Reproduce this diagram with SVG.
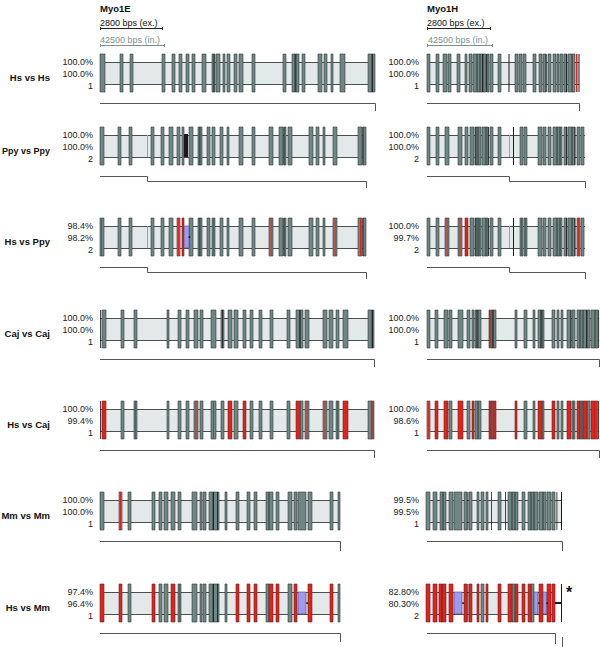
<svg xmlns="http://www.w3.org/2000/svg" width="600" height="647" viewBox="0 0 600 647">
<style>
.bg{fill:#fff}
.bx{fill:#e3e9e8}
.bxl{fill:none;stroke:#4a4f4f;stroke-width:1}
.brk{fill:none;stroke:#9aa3a2;stroke-width:1}
.e{fill:#6f8684;stroke:#2f3b3a;stroke-width:.6}
.r{fill:#e6201b;stroke:#5e2a28;stroke-width:.6}
.rl{fill:#e6201b}
.k{fill:#1a1a1a}
.bl{fill:#9a9cf2;stroke:#4c4c6a;stroke-width:.6}
.pct{font-family:"Liberation Sans",Arial,sans-serif;font-size:9px;fill:#222;text-anchor:end}
.lab{font-family:"Liberation Sans",Arial,sans-serif;font-size:9.5px;font-weight:bold;fill:#111;text-anchor:end}
.ttl{font-family:"Liberation Sans",Arial,sans-serif;font-size:9.5px;font-weight:bold;fill:#111}
.sc{font-family:"Liberation Sans",Arial,sans-serif;font-size:9px;fill:#111}
.sc2{font-family:"Liberation Sans",Arial,sans-serif;font-size:9px;fill:#7d918e}
.scl{fill:none;stroke:#222;stroke-width:1}
.scl2{fill:none;stroke:#7d918e;stroke-width:1}
.br{fill:none;stroke:#555;stroke-width:1}
</style>
<rect class="bg" x="0" y="0" width="600" height="647"/>

<g id="header-myo1e">
<text class="ttl" x="100" y="12">Myo1E</text>
<text class="sc" x="100" y="26">2800 bps (ex.)</text>
<path class="scl" d="M100 28.5H163M100.5 27V30M162.5 27V30"/>
<text class="sc2" x="100" y="43">42500 bps (in.)</text>
<path class="scl2" d="M100 45.5H165M100.5 44V47M164.5 44V47"/>
</g>
<g id="header-myo1h">
<text class="ttl" x="427" y="12">Myo1H</text>
<text class="sc" x="427" y="26">2800 bps (ex.)</text>
<path class="scl" d="M427 28.5H491M427.5 27V30M490.5 27V30"/>
<text class="sc2" x="428" y="43">42500 bps (in.)</text>
<path class="scl2" d="M427 45.5H493M427.5 44V47M492.5 44V47"/>
</g>

<!-- Row 1: Hs vs Hs -->
<g id="row-hs-hs" transform="translate(0,54)">
<text class="lab" x="50" y="27">Hs vs Hs</text>
<g id="hs-hs-myo1e">
<text class="pct" x="93" y="11">100.0%</text><text class="pct" x="93" y="23">100.0%</text><text class="pct" x="93" y="34.5">1</text>
<rect class="bx" x="100" y="8" width="275" height="22"/><path class="bxl" d="M100 8.5H375M100 30.5H375"/>
<path class="e" d="M100 0h5v38h-5zM120 0h3v38h-3zM130 0h3v38h-3zM162 0h3v38h-3zM172 0h3v38h-3zM179 0h3v38h-3zM186 0h3v38h-3zM192 0h3v38h-3zM202 0h4v38h-4zM212 0h3v38h-3zM216 0h4v38h-4zM223 0h2v38h-2zM227 0h3v38h-3zM234 0h3v38h-3zM239 0h4v38h-4zM252 0h3v38h-3zM283 0h3v38h-3zM292 0h3v38h-3zM295 0h4v38h-4zM302 0h3v38h-3zM318 0h4v38h-4zM324 0h3v38h-3zM331 0h2v38h-2zM340 0h5v38h-5zM368 0h4v38h-4zM372 0h3v38h-3z"/>
<path class="k" d="M213.5 0h.8v38h-.8zM295.5 0h.8v38h-.8zM372.2 0h.8v38h-.8z"/>
</g>
<g id="hs-hs-myo1h">
<text class="pct" x="419" y="11">100.0%</text><text class="pct" x="419" y="23">100.0%</text><text class="pct" x="419" y="34.5">1</text>
<rect class="bx" x="427" y="8" width="152" height="22"/><path class="bxl" d="M427 8.5H579M427 30.5H579"/>
<path class="e" d="M427 0h3v38h-3zM436 0h3v38h-3zM443 0h4v38h-4zM448 0h3v38h-3zM457 0h3v38h-3zM465 0h2v38h-2zM469 0h3v38h-3zM473 0h4v38h-4zM477 0h3v38h-3zM480 0h3v38h-3zM483 0h3v38h-3zM487 0h2v38h-2zM490 0h3v38h-3zM498 0h3v38h-3zM515 0h3v38h-3zM519 0h3v38h-3zM523 0h3v38h-3zM533 0h3v38h-3zM539 0h3v38h-3zM543 0h3v38h-3zM548 0h3v38h-3zM553 0h3v38h-3zM557 0h2v38h-2zM560 0h3v38h-3zM564 0h3v38h-3zM568 0h4v38h-4zM572 0h3v38h-3z"/>
<path class="rl" d="M576 0h1.5v38h-1.5z"/>
<path class="k" d="M482 0h.8v38h-.8zM486.2 0h.8v38h-.8zM508.5 0h1v38h-1zM545.8 0h.8v38h-.8zM566 0h.8v38h-.8zM578.5 0h1v38h-1z"/>
</g>
</g>

<!-- Row 2: Ppy vs Ppy -->
<g id="row-ppy-ppy" transform="translate(0,127)">
<text class="lab" x="50" y="27" textLength="48" lengthAdjust="spacingAndGlyphs">Ppy vs Ppy</text>
<g id="ppy-ppy-myo1e">
<text class="pct" x="93" y="11">100.0%</text><text class="pct" x="93" y="23">100.0%</text><text class="pct" x="93" y="34.5">2</text>
<rect class="bx" x="100" y="8" width="266" height="22"/><path class="bxl" d="M100 8.5H366M100 30.5H366"/>
<path class="brk" d="M147.5 8V30"/>
<path class="e" d="M100 0h4v38h-4zM118 0h3v38h-3zM129 0h3v38h-3zM151 0h3v38h-3zM161 0h3v38h-3zM169 0h4v38h-4zM177 0h3v38h-3zM182 0h2v38h-2zM189 0h4v38h-4zM198 0h4v38h-4zM207 0h3v38h-3zM212 0h3v38h-3zM220 0h3v38h-3zM227 0h2v38h-2zM239 0h4v38h-4zM252 0h3v38h-3zM269 0h4v38h-4zM279 0h4v38h-4zM284 0h2v38h-2zM288 0h4v38h-4zM309 0h4v38h-4zM316 0h3v38h-3zM323 0h2v38h-2zM333 0h4v38h-4zM358 0h4v38h-4zM363 0h3v38h-3z"/>
<path class="k" d="M184 7h4v23h-4zM199.5 0h.8v38h-.8zM283.5 0h.8v38h-.8zM362.5 0h.8v38h-.8z"/>
</g>
<g id="ppy-ppy-myo1h">
<text class="pct" x="419" y="11">100.0%</text><text class="pct" x="419" y="23">100.0%</text><text class="pct" x="419" y="34.5">2</text>
<rect class="bx" x="427" y="8" width="158" height="22"/><path class="bxl" d="M427 8.5H585M427 30.5H585"/>
<path class="brk" d="M509.5 8V30"/>
<path class="e" d="M427 0h3v38h-3zM436 0h3v38h-3zM445 0h4v38h-4zM458 0h4v38h-4zM465 0h3v38h-3zM470 0h4v38h-4zM475 0h3v38h-3zM478 0h3v38h-3zM482 0h4v38h-4zM486 0h2v38h-2zM490 0h3v38h-3zM498 0h3v38h-3zM520 0h3v38h-3zM524 0h3v38h-3zM538 0h4v38h-4zM543 0h3v38h-3zM548 0h3v38h-3zM553 0h4v38h-4zM557 0h3v38h-3zM560 0h2v38h-2zM564 0h3v38h-3zM568 0h4v38h-4zM572 0h3v38h-3zM577 0h3v38h-3zM581 0h3v38h-3z"/>
<path class="k" d="M513 0h1v38h-1zM475.5 0h.8v38h-.8zM488 0h.8v38h-.8zM566 0h.8v38h-.8zM574.5 0h.8v38h-.8z"/>
</g>
</g>

<!-- Row 3: Hs vs Ppy -->
<g id="row-hs-ppy" transform="translate(0,218)">
<text class="lab" x="50" y="27">Hs vs Ppy</text>
<g id="hs-ppy-myo1e">
<text class="pct" x="93" y="11">98.4%</text><text class="pct" x="93" y="23">98.2%</text><text class="pct" x="93" y="34.5">2</text>
<rect class="bx" x="100" y="8" width="266" height="22"/><path class="bxl" d="M100 8.5H366M100 30.5H366"/>
<path class="brk" d="M147.5 8V30"/>
<path class="e" d="M100 0h4v38h-4zM118 0h3v38h-3zM129 0h3v38h-3zM151 0h3v38h-3zM161 0h3v38h-3zM169 0h4v38h-4zM177 0h3v38h-3zM189 0h4v38h-4zM198 0h4v38h-4zM207 0h3v38h-3zM212 0h3v38h-3zM220 0h3v38h-3zM227 0h2v38h-2zM239 0h4v38h-4zM252 0h3v38h-3zM269 0h4v38h-4zM279 0h4v38h-4zM284 0h2v38h-2zM288 0h4v38h-4zM309 0h4v38h-4zM316 0h3v38h-3zM323 0h2v38h-2zM333 0h4v38h-4zM358 0h4v38h-4zM363 0h3v38h-3z"/>
<path class="r" d="M182 0h2v38h-2z"/>
<path class="rl" d="M101 0h1v38h-1zM178 0h1v38h-1zM213 0h1v38h-1zM270.5 0h1v38h-1zM334.5 0h1v38h-1zM360 0h1v38h-1z"/>
<rect class="bl" x="184" y="8" width="5" height="22"/>
<path class="k" d="M188.6 18.3h1.6v1.6h-1.6zM199.5 0h.8v38h-.8zM283.5 0h.8v38h-.8zM362.5 0h.8v38h-.8z"/>
</g>
<g id="hs-ppy-myo1h">
<text class="pct" x="419" y="11">100.0%</text><text class="pct" x="419" y="23">99.7%</text><text class="pct" x="419" y="34.5">2</text>
<rect class="bx" x="427" y="8" width="158" height="22"/><path class="bxl" d="M427 8.5H585M427 30.5H585"/>
<path class="brk" d="M509.5 8V30"/>
<path class="e" d="M427 0h3v38h-3zM436 0h3v38h-3zM445 0h4v38h-4zM458 0h4v38h-4zM470 0h4v38h-4zM475 0h3v38h-3zM478 0h3v38h-3zM482 0h4v38h-4zM486 0h2v38h-2zM490 0h3v38h-3zM498 0h3v38h-3zM520 0h3v38h-3zM524 0h3v38h-3zM538 0h4v38h-4zM543 0h3v38h-3zM548 0h3v38h-3zM553 0h4v38h-4zM557 0h3v38h-3zM560 0h2v38h-2zM564 0h3v38h-3zM568 0h4v38h-4zM572 0h3v38h-3zM577 0h3v38h-3zM581 0h3v38h-3z"/>
<path class="r" d="M465 0h3v38h-3z"/>
<path class="rl" d="M446.5 0h1v38h-1zM459.5 0h1v38h-1zM479 0h1v38h-1zM521 0h1v38h-1zM525 0h1v38h-1zM578 0h1.2v38h-1.2z"/>
<path class="k" d="M513 0h1v38h-1zM475.5 0h.8v38h-.8zM488 0h.8v38h-.8zM566 0h.8v38h-.8zM574.5 0h.8v38h-.8z"/>
</g>
</g>

<!-- Row 4: Caj vs Caj -->
<g id="row-caj-caj" transform="translate(0,310)">
<text class="lab" x="50" y="27">Caj vs Caj</text>
<g id="caj-caj-myo1e">
<text class="pct" x="93" y="11">100.0%</text><text class="pct" x="93" y="23">100.0%</text><text class="pct" x="93" y="34.5">1</text>
<rect class="bx" x="100" y="8" width="274" height="22"/><path class="bxl" d="M100 8.5H374M100 30.5H374"/>
<path class="e" d="M102 0h4v38h-4zM121 0h3v38h-3zM134 0h3v38h-3zM167 0h2v38h-2zM178 0h3v38h-3zM186 0h3v38h-3zM194 0h4v38h-4zM200 0h3v38h-3zM211 0h5v38h-5zM221 0h3v38h-3zM228 0h4v38h-4zM234 0h4v38h-4zM243 0h3v38h-3zM250 0h3v38h-3zM259 0h3v38h-3zM270 0h3v38h-3zM287 0h3v38h-3zM296 0h4v38h-4zM300 0h3v38h-3zM305 0h4v38h-4zM323 0h4v38h-4zM329 0h4v38h-4zM336 0h3v38h-3zM343 0h5v38h-5zM368 0h4v38h-4zM372 0h2v38h-2z"/>
<path class="k" d="M100 0h.8v38h-.8zM222 0h.8v38h-.8zM299.5 0h.8v38h-.8zM372 0h.8v38h-.8z"/>
</g>
<g id="caj-caj-myo1h">
<text class="pct" x="419" y="11">100.0%</text><text class="pct" x="419" y="23">100.0%</text><text class="pct" x="419" y="34.5">1</text>
<rect class="bx" x="427" y="8" width="172" height="22"/><path class="bxl" d="M427 8.5H599M427 30.5H599"/>
<path class="e" d="M427 0h3v38h-3zM435 0h3v38h-3zM444 0h4v38h-4zM449 0h3v38h-3zM458 0h5v38h-5zM467 0h3v38h-3zM472 0h2v38h-2zM475 0h3v38h-3zM478 0h3v38h-3zM491 0h2v38h-2zM493 0h3v38h-3zM515 0h2v38h-2zM524 0h3v38h-3zM533 0h2v38h-2zM538 0h4v38h-4zM542 0h2v38h-2zM552 0h3v38h-3zM557 0h2v38h-2zM561 0h2v38h-2zM567 0h4v38h-4zM572 0h3v38h-3zM577 0h3v38h-3zM580 0h3v38h-3zM583 0h4v38h-4zM587 0h3v38h-3zM591 0h4v38h-4zM595 0h3v38h-3z"/>
<path class="r" d="M489 0h1.5v38h-1.5z"/>
<path class="k" d="M476.5 0h.8v38h-.8zM492.5 0h.8v38h-.8zM540.5 0h.8v38h-.8zM570.5 0h.8v38h-.8zM586 0h.8v38h-.8zM598.3 0h.8v38h-.8z"/>
</g>
</g>

<!-- Row 5: Hs vs Caj -->
<g id="row-hs-caj" transform="translate(0,401)">
<text class="lab" x="50" y="27">Hs vs Caj</text>
<g id="hs-caj-myo1e">
<text class="pct" x="93" y="11">100.0%</text><text class="pct" x="93" y="23">99.4%</text><text class="pct" x="93" y="34.5">1</text>
<rect class="bx" x="100" y="8" width="274" height="22"/><path class="bxl" d="M100 8.5H374M100 30.5H374"/>
<path class="e" d="M121 0h3v38h-3zM134 0h3v38h-3zM167 0h2v38h-2zM178 0h3v38h-3zM186 0h3v38h-3zM194 0h4v38h-4zM200 0h3v38h-3zM211 0h5v38h-5zM221 0h3v38h-3zM234 0h4v38h-4zM250 0h3v38h-3zM259 0h3v38h-3zM270 0h3v38h-3zM287 0h3v38h-3zM300 0h3v38h-3zM305 0h4v38h-4zM323 0h4v38h-4zM329 0h4v38h-4zM336 0h3v38h-3zM368 0h4v38h-4zM372 0h2v38h-2z"/>
<path class="r" d="M102 0h4v38h-4zM228 0h4v38h-4zM243 0h3v38h-3zM296 0h4v38h-4zM343 0h5v38h-5z"/>
<path class="rl" d="M135 0h1v38h-1zM195.5 0h1v38h-1zM213 0h1v38h-1zM306.5 0h1v38h-1zM324.5 0h1v38h-1zM337 0h1v38h-1zM372.5 0h1v38h-1z"/>
<path class="k" d="M100 0h.8v38h-.8z"/>
</g>
<g id="hs-caj-myo1h">
<text class="pct" x="419" y="11">100.0%</text><text class="pct" x="419" y="23">98.6%</text><text class="pct" x="419" y="34.5">1</text>
<rect class="bx" x="427" y="8" width="172" height="22"/><path class="bxl" d="M427 8.5H599M427 30.5H599"/>
<path class="e" d="M427 0h3v38h-3zM449 0h3v38h-3zM467 0h3v38h-3zM475 0h3v38h-3zM478 0h3v38h-3zM491 0h2v38h-2zM524 0h3v38h-3zM533 0h2v38h-2zM542 0h2v38h-2zM557 0h2v38h-2zM561 0h2v38h-2zM572 0h3v38h-3zM580 0h3v38h-3zM587 0h3v38h-3zM595 0h3v38h-3z"/>
<path class="r" d="M435 0h3v38h-3zM444 0h4v38h-4zM458 0h5v38h-5zM472 0h2v38h-2zM489 0h2v38h-2zM493 0h3v38h-3zM515 0h2v38h-2zM538 0h4v38h-4zM552 0h3v38h-3zM567 0h4v38h-4zM577 0h3v38h-3zM583 0h4v38h-4zM591 0h4v38h-4z"/>
<path class="rl" d="M428 0h1v38h-1zM573 0h1v38h-1zM581 0h1v38h-1zM596 0h1v38h-1z"/>
<path class="k" d="M598.3 0h.8v38h-.8z"/>
</g>
</g>

<!-- Row 6: Mm vs Mm -->
<g id="row-mm-mm" transform="translate(0,492)">
<text class="lab" x="50" y="27">Mm vs Mm</text>
<g id="mm-mm-myo1e">
<text class="pct" x="93" y="11">100.0%</text><text class="pct" x="93" y="23">100.0%</text><text class="pct" x="93" y="34.5">1</text>
<rect class="bx" x="100" y="8" width="240" height="22"/><path class="bxl" d="M100 8.5H340M100 30.5H340"/>
<path class="e" d="M100 0h4v38h-4zM119 0h3v38h-3zM128 0h3v38h-3zM152 0h3v38h-3zM159 0h3v38h-3zM164 0h4v38h-4zM171 0h4v38h-4zM178 0h3v38h-3zM192 0h5v38h-5zM200 0h2v38h-2zM203 0h3v38h-3zM209 0h4v38h-4zM213 0h6v38h-6zM225 0h2v38h-2zM236 0h3v38h-3zM247 0h3v38h-3zM254 0h3v38h-3zM266 0h3v38h-3zM269 0h4v38h-4zM276 0h3v38h-3zM288 0h4v38h-4zM294 0h3v38h-3zM298 0h8v38h-8zM308 0h4v38h-4zM330 0h3v38h-3zM338 0h2v38h-2z"/>
<path class="rl" d="M120 0h1v38h-1z"/>
<path class="k" d="M213 0h.8v38h-.8zM217 0h.8v38h-.8z"/>
</g>
<g id="mm-mm-myo1h">
<text class="pct" x="419" y="11">99.5%</text><text class="pct" x="419" y="23">99.5%</text><text class="pct" x="419" y="34.5">1</text>
<rect class="bx" x="427" y="8" width="135" height="22"/><path class="bxl" d="M427 8.5H562M427 30.5H562"/>
<path class="e" d="M426 0h4v38h-4zM433 0h4v38h-4zM440 0h3v38h-3zM443 0h3v38h-3zM449 0h4v38h-4zM454 0h8v38h-8zM464 0h3v38h-3zM469 0h3v38h-3zM477 0h2v38h-2zM481 0h3v38h-3zM486 0h2v38h-2zM498 0h3v38h-3zM508 0h4v38h-4zM512 0h3v38h-3zM515 0h3v38h-3zM522 0h3v38h-3zM528 0h3v38h-3zM531 0h3v38h-3zM534 0h4v38h-4zM539 0h4v38h-4zM543 0h3v38h-3zM547 0h4v38h-4zM552 0h3v38h-3z"/>
<path class="k" d="M467.5 0h.8v38h-.8zM491 0h.8v38h-.8zM505 0h.8v38h-.8zM556.5 0h.8v38h-.8zM561 0h1v38h-1z"/>
</g>
</g>

<!-- Row 7: Hs vs Mm -->
<g id="row-hs-mm" transform="translate(0,584)">
<text class="lab" x="50" y="27">Hs vs Mm</text>
<g id="hs-mm-myo1e">
<text class="pct" x="93" y="11">97.4%</text><text class="pct" x="93" y="23">96.4%</text><text class="pct" x="93" y="34.5">1</text>
<rect class="bx" x="100" y="8" width="240" height="22"/><path class="bxl" d="M100 8.5H340M100 30.5H340"/>
<path class="e" d="M128 0h3v38h-3zM159 0h3v38h-3zM164 0h4v38h-4zM178 0h3v38h-3zM192 0h5v38h-5zM200 0h2v38h-2zM203 0h3v38h-3zM209 0h4v38h-4zM213 0h6v38h-6zM225 0h2v38h-2zM266 0h3v38h-3zM288 0h4v38h-4zM338 0h2v38h-2z"/>
<path class="r" d="M100 0h4v38h-4zM119 0h3v38h-3zM152 0h3v38h-3zM171 0h4v38h-4zM236 0h3v38h-3zM247 0h3v38h-3zM254 0h3v38h-3zM269 0h4v38h-4zM276 0h3v38h-3zM294 0h3v38h-3zM308 0h4v38h-4zM330 0h3v38h-3z"/>
<path class="rl" d="M179 0h1v38h-1z"/>
<rect class="bl" x="298" y="8" width="8" height="22"/>
<path class="k" d="M306.3 18.3h1.6v1.6h-1.6zM213 0h.8v38h-.8zM217 0h.8v38h-.8z"/>
</g>
<g id="hs-mm-myo1h">
<text class="pct" x="419" y="11">82.80%</text><text class="pct" x="419" y="23">80.30%</text><text class="pct" x="419" y="34.5">2</text>
<rect class="bx" x="427" y="8" width="128" height="22"/><path class="bxl" d="M427 8.5H555M427 30.5H555"/>
<path class="e" d="M481 0h3v38h-3zM512 0h3v38h-3zM531 0h3v38h-3z"/>
<path class="r" d="M426 0h4v38h-4zM433 0h4v38h-4zM439 0h3v38h-3zM442 0h4v38h-4zM449 0h4v38h-4zM464 0h3v38h-3zM469 0h3v38h-3zM477 0h2v38h-2zM486 0h2v38h-2zM498 0h3v38h-3zM508 0h4v38h-4zM515 0h3v38h-3zM522 0h3v38h-3zM528 0h3v38h-3zM539 0h4v38h-4zM547 0h4v38h-4zM552 0h3v38h-3z"/>
<rect class="bl" x="454" y="8" width="8" height="22"/>
<rect class="bl" x="534" y="8" width="4" height="22"/>
<rect class="bl" x="543" y="8" width="3.5" height="22"/>
<path class="k" d="M462.3 18.3h1.6v1.6h-1.6zM538.2 18.3h1.6v1.6h-1.6zM546.4 18.3h1.6v1.6h-1.6zM467.5 0h.8v38h-.8zM561 0h1v38h-1zM555 18h6v2h-6z"/>
<text x="566" y="14" font-family="Liberation Sans, Arial, sans-serif" font-size="16" font-weight="bold" fill="#111">*</text>
</g>
</g>

<g id="connectors">
<path class="br" d="M100 103.5H375.5V111M427 103.5H579.5V111"/>
<path class="br" d="M100 176.5H147.5V181.5H366.5V188M427 176.5H509.5V181.5H585.5V188"/>
<path class="br" d="M100 267.5H147.5V272.5H366.5V279M427 267.5H509.5V272.5H585.5V279"/>
<path class="br" d="M100 359.5H374.5V367M427 359.5H599.5V367"/>
<path class="br" d="M100 450.5H374.5V458M427 450.5H599.5V458"/>
<path class="br" d="M100 541.5H340.5V551M427 541.5H562.5V551"/>
<path class="br" d="M100 633.5H340.5V642M427 633.5H555.5V644M562.5 637V647"/>
</g>
</svg>
